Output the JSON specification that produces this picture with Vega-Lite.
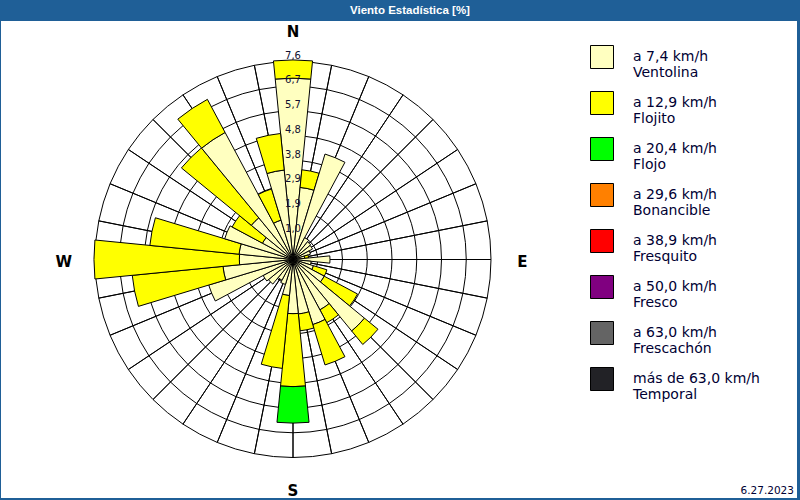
{
  "$schema": "https://vega.github.io/schema/vega-lite/v6.json",
  "background": "#1f5f97",
  "padding": {"left": 1, "top": 4, "right": 3, "bottom": 3},
  "spacing": 0,
  "title": {"text": "Viento Estadística [%]", "color": "white", "font": "Liberation Sans", "fontSize": 11.5, "fontWeight": "bold", "anchor": "start", "frame": "group", "offset": 5, "dx": 349},
  "config": {"view": {"fill": "white", "stroke": null}},
  "datasets": {
    "viento": [
      {"dir": 0, "clase": "a 7,4 km/h|Ventolina", "orden": 0, "pct": 6.96},
      {"dir": 0, "clase": "a 12,9 km/h|Flojito", "orden": 1, "pct": 0.70},
      {"dir": 11.25, "clase": "a 7,4 km/h|Ventolina", "orden": 0, "pct": 2.78},
      {"dir": 11.25, "clase": "a 12,9 km/h|Flojito", "orden": 1, "pct": 0.68},
      {"dir": 22.5, "clase": "a 7,4 km/h|Ventolina", "orden": 0, "pct": 4.23},
      {"dir": 33.75, "clase": "a 7,4 km/h|Ventolina", "orden": 0, "pct": 0.95},
      {"dir": 45, "clase": "a 7,4 km/h|Ventolina", "orden": 0, "pct": 0.88},
      {"dir": 56.25, "clase": "a 7,4 km/h|Ventolina", "orden": 0, "pct": 0.85},
      {"dir": 67.5, "clase": "a 7,4 km/h|Ventolina", "orden": 0, "pct": 0.7},
      {"dir": 78.75, "clase": "a 7,4 km/h|Ventolina", "orden": 0, "pct": 0.45},
      {"dir": 78.75, "clase": "a 12,9 km/h|Flojito", "orden": 1, "pct": 0.15},
      {"dir": 90, "clase": "a 7,4 km/h|Ventolina", "orden": 0, "pct": 1.42},
      {"dir": 101.25, "clase": "a 7,4 km/h|Ventolina", "orden": 0, "pct": 0.7},
      {"dir": 112.5, "clase": "a 7,4 km/h|Ventolina", "orden": 0, "pct": 0.82},
      {"dir": 112.5, "clase": "a 12,9 km/h|Flojito", "orden": 1, "pct": 0.54},
      {"dir": 123.75, "clase": "a 7,4 km/h|Ventolina", "orden": 0, "pct": 1.36},
      {"dir": 123.75, "clase": "a 12,9 km/h|Flojito", "orden": 1, "pct": 1.45},
      {"dir": 135, "clase": "a 7,4 km/h|Ventolina", "orden": 0, "pct": 3.55},
      {"dir": 135, "clase": "a 12,9 km/h|Flojito", "orden": 1, "pct": 0.67},
      {"dir": 146.25, "clase": "a 7,4 km/h|Ventolina", "orden": 0, "pct": 2.19},
      {"dir": 146.25, "clase": "a 12,9 km/h|Flojito", "orden": 1, "pct": 0.56},
      {"dir": 157.5, "clase": "a 7,4 km/h|Ventolina", "orden": 0, "pct": 2.61},
      {"dir": 157.5, "clase": "a 12,9 km/h|Flojito", "orden": 1, "pct": 1.62},
      {"dir": 168.75, "clase": "a 7,4 km/h|Ventolina", "orden": 0, "pct": 2.1},
      {"dir": 168.75, "clase": "a 12,9 km/h|Flojito", "orden": 1, "pct": 0.65},
      {"dir": 180, "clase": "a 7,4 km/h|Ventolina", "orden": 0, "pct": 2.08},
      {"dir": 180, "clase": "a 12,9 km/h|Flojito", "orden": 1, "pct": 2.8},
      {"dir": 180, "clase": "a 20,4 km/h|Flojo", "orden": 2, "pct": 1.4},
      {"dir": 191.25, "clase": "a 7,4 km/h|Ventolina", "orden": 0, "pct": 1.39},
      {"dir": 191.25, "clase": "a 12,9 km/h|Flojito", "orden": 1, "pct": 2.81},
      {"dir": 202.5, "clase": "a 7,4 km/h|Ventolina", "orden": 0, "pct": 1.0},
      {"dir": 213.75, "clase": "a 7,4 km/h|Ventolina", "orden": 0, "pct": 0.9},
      {"dir": 225, "clase": "a 7,4 km/h|Ventolina", "orden": 0, "pct": 1.22},
      {"dir": 236.25, "clase": "a 7,4 km/h|Ventolina", "orden": 0, "pct": 1.3},
      {"dir": 247.5, "clase": "a 7,4 km/h|Ventolina", "orden": 0, "pct": 3.38},
      {"dir": 258.75, "clase": "a 7,4 km/h|Ventolina", "orden": 0, "pct": 2.7},
      {"dir": 258.75, "clase": "a 12,9 km/h|Flojito", "orden": 1, "pct": 3.5},
      {"dir": 270, "clase": "a 7,4 km/h|Ventolina", "orden": 0, "pct": 2.06},
      {"dir": 270, "clase": "a 12,9 km/h|Flojito", "orden": 1, "pct": 5.58},
      {"dir": 281.25, "clase": "a 7,4 km/h|Ventolina", "orden": 0, "pct": 2.08},
      {"dir": 281.25, "clase": "a 12,9 km/h|Flojito", "orden": 1, "pct": 3.44},
      {"dir": 292.5, "clase": "a 7,4 km/h|Ventolina", "orden": 0, "pct": 2.74},
      {"dir": 303.75, "clase": "a 7,4 km/h|Ventolina", "orden": 0, "pct": 1.33},
      {"dir": 303.75, "clase": "a 12,9 km/h|Flojito", "orden": 1, "pct": 1.32},
      {"dir": 315, "clase": "a 7,4 km/h|Ventolina", "orden": 0, "pct": 2.07},
      {"dir": 315, "clase": "a 12,9 km/h|Flojito", "orden": 1, "pct": 3.47},
      {"dir": 326.25, "clase": "a 7,4 km/h|Ventolina", "orden": 0, "pct": 5.53},
      {"dir": 326.25, "clase": "a 12,9 km/h|Flojito", "orden": 1, "pct": 1.44},
      {"dir": 337.5, "clase": "a 7,4 km/h|Ventolina", "orden": 0, "pct": 1.58},
      {"dir": 337.5, "clase": "a 12,9 km/h|Flojito", "orden": 1, "pct": 1.25},
      {"dir": 348.75, "clase": "a 7,4 km/h|Ventolina", "orden": 0, "pct": 3.45},
      {"dir": 348.75, "clase": "a 12,9 km/h|Flojito", "orden": 1, "pct": 1.41}
    ],
    "anillos": [
      {"r": 0.95, "etiqueta": "1,0"},
      {"r": 1.9, "etiqueta": "1,9"},
      {"r": 2.85, "etiqueta": "2,9"},
      {"r": 3.8, "etiqueta": "3,8"},
      {"r": 4.75, "etiqueta": "4,8"},
      {"r": 5.7, "etiqueta": "5,7"},
      {"r": 6.65, "etiqueta": "6,7"},
      {"r": 7.6, "etiqueta": "7,6"}
    ],
    "radios": [
      {"a": 0}, {"a": 11.25}, {"a": 22.5}, {"a": 33.75}, {"a": 45}, {"a": 56.25}, {"a": 67.5}, {"a": 78.75},
      {"a": 90}, {"a": 101.25}, {"a": 112.5}, {"a": 123.75}, {"a": 135}, {"a": 146.25}, {"a": 157.5}, {"a": 168.75},
      {"a": 180}, {"a": 191.25}, {"a": 202.5}, {"a": 213.75}, {"a": 225}, {"a": 236.25}, {"a": 247.5}, {"a": 258.75},
      {"a": 270}, {"a": 281.25}, {"a": 292.5}, {"a": 303.75}, {"a": 315}, {"a": 326.25}, {"a": 337.5}, {"a": 348.75}
    ],
    "puntos": [
      {"a": 0, "p": "N"}, {"a": 90, "p": "E"}, {"a": 180, "p": "S"}, {"a": 270, "p": "W"}
    ],
    "fecha": [{"f": "6.27.2023"}]
  },
  "hconcat": [
    {
      "width": 584,
      "height": 477,
      "view": {"fill": "white", "stroke": null},
      "layer": [
        {
          "data": {"name": "anillos"},
          "mark": {"type": "arc", "filled": false, "stroke": "black", "strokeWidth": 1},
          "encoding": {
            "theta": {"datum": 0, "type": "quantitative", "scale": {"domain": [0, 360]}},
            "theta2": {"datum": 360},
            "radius": {"field": "r", "type": "quantitative", "stack": null, "scale": {"type": "linear", "domain": [0, 7.6], "range": [0, 198], "zero": true}}
          }
        },
        {
          "data": {"name": "radios"},
          "mark": {"type": "arc", "filled": false, "stroke": "black", "strokeWidth": 1},
          "encoding": {
            "theta": {"field": "a", "type": "quantitative", "stack": null},
            "theta2": {"field": "a"},
            "radius": {"datum": 7.6, "type": "quantitative"},
            "radius2": {"datum": 0}
          }
        },
        {
          "data": {"name": "viento"},
          "transform": [
            {"bin": {"extent": [-5.625, 354.375], "step": 11.25, "nice": false}, "field": "dir", "as": ["d0", "d1"]},
            {"stack": "pct", "groupby": ["dir"], "sort": [{"field": "orden", "order": "ascending"}], "as": ["r0", "r1"]}
          ],
          "mark": {"type": "arc", "stroke": "black", "strokeWidth": 1},
          "encoding": {
            "theta": {"field": "d0", "type": "quantitative", "stack": null},
            "theta2": {"field": "d1"},
            "radius": {"field": "r1", "type": "quantitative", "stack": null},
            "radius2": {"field": "r0"},
            "color": {
              "field": "clase",
              "type": "nominal",
              "scale": {
                "domain": ["a 7,4 km/h|Ventolina", "a 12,9 km/h|Flojito", "a 20,4 km/h|Flojo", "a 29,6 km/h|Bonancible", "a 38,9 km/h|Fresquito", "a 50,0 km/h|Fresco", "a 63,0 km/h|Frescachón", "más de 63,0 km/h|Temporal"],
                "range": ["#ffffc0", "#ffff00", "#00ff00", "#ff8000", "#ff0000", "#800080", "#646464", "#222226"]
              },
              "legend": {
                "orient": "none",
                "legendX": 589,
                "legendY": 24,
                "title": null,
                "symbolType": "square",
                "symbolSize": 529,
                "symbolStrokeColor": "black",
                "symbolStrokeWidth": 1,
                "symbolOpacity": 1,
                "labelExpr": "split(datum.label, '|')",
                "labelFont": "DejaVu Sans",
                "labelFontSize": 14,
                "labelColor": "#000033",
                "labelOffset": 19,
                "labelLimit": 300,
                "rowPadding": 9
              }
            }
          }
        },
        {
          "data": {"name": "anillos"},
          "mark": {"type": "text", "font": "DejaVu Sans", "fontSize": 10, "color": "#101030", "dy": -6},
          "encoding": {
            "theta": {"datum": 0, "type": "quantitative"},
            "radius": {"field": "r", "type": "quantitative"},
            "text": {"field": "etiqueta"}
          }
        },
        {
          "data": {"name": "puntos"},
          "mark": {"type": "text", "font": "DejaVu Sans", "fontSize": 15, "fontWeight": "bold", "color": "black", "dy": 2},
          "encoding": {
            "theta": {"field": "a", "type": "quantitative"},
            "radius": {"datum": 8.8, "type": "quantitative"},
            "text": {"field": "p"}
          }
        }
      ]
    },
    {
      "width": 212,
      "height": 477,
      "data": {"name": "fecha"},
      "mark": {"type": "text", "align": "right", "baseline": "bottom", "font": "DejaVu Sans", "fontSize": 10.5, "color": "#000033", "dx": -3, "dy": -2},
      "encoding": {
        "text": {"field": "f"},
        "x": {"value": "width"},
        "y": {"value": "height"}
      }
    }
  ]
}
